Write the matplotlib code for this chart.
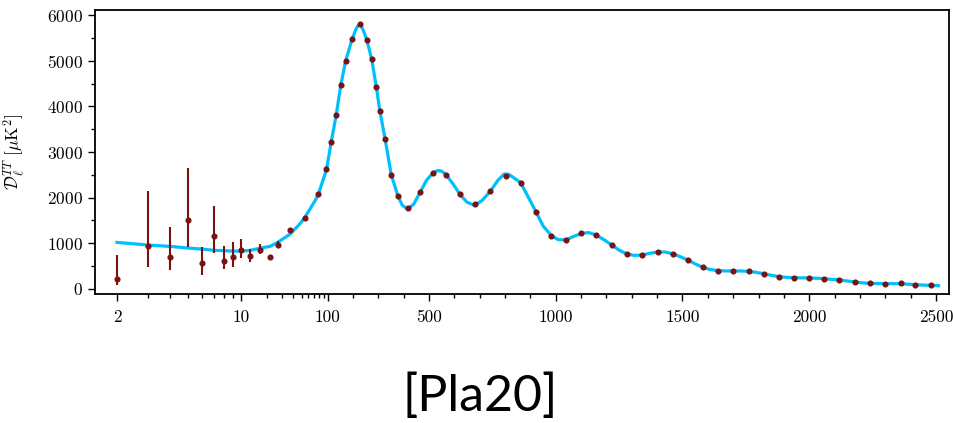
import numpy as np
import matplotlib
matplotlib.use('Agg')
import matplotlib.pyplot as plt
from matplotlib.ticker import FixedLocator, FixedFormatter

plt.rcParams['font.family'] = 'serif'
plt.rcParams['font.serif'] = ['cmr10']
plt.rcParams['mathtext.fontset'] = 'cm'
plt.rcParams['axes.unicode_minus'] = False
plt.rcParams['axes.formatter.use_mathtext'] = True

# binned data points (multipole, D_ell, lower, upper)
ell_pts = [2, 3, 4, 5, 6, 7, 8, 9, 10, 12.7, 16.7, 21.6, 26.5, 37, 55, 77, 97,
           114.6, 134, 152, 171, 197, 226, 255, 274, 292, 306, 327, 351, 377,
           416, 466, 517, 567, 622, 680, 742, 802, 861, 922, 983, 1041, 1101,
           1160, 1221, 1281, 1340, 1402, 1461, 1521, 1581, 1642, 1701, 1761,
           1820, 1881, 1941, 2000, 2060, 2119, 2180, 2239, 2300, 2360, 2419, 2479]
d_pts = [225, 945, 692, 1500, 568, 1166, 619, 693, 845, 728, 860, 704, 969,
         1284, 1544, 2077, 2625, 3228, 3812, 4462, 4993, 5475, 5803, 5453,
         5031, 4431, 3906, 3281, 2507, 2041, 1763, 2128, 2551, 2507, 2070,
         1851, 2143, 2478, 2332, 1691, 1166, 1078, 1216, 1181, 962, 765, 744,
         809, 772, 634, 472, 400, 394, 385, 335, 269, 247, 241, 225, 197, 153,
         122, 116, 122, 94, 79]
err_lo = [131, 457, 285, 575, 255, 372, 182, 212, 167, 131, 88, 30, 69,
          40, 40, 40, 45, 45, 45, 45, 45, 45, 45, 40, 40, 40, 35, 35, 30, 30,
          25, 25, 25, 25, 25, 20, 20, 20, 20, 20, 20, 18, 18, 18, 18, 15, 15,
          15, 15, 15, 15, 12, 12, 12, 12, 12, 10, 10, 10, 10, 10, 10, 10, 10,
          10, 10]
err_hi = [519, 1198, 671, 1150, 357, 656, 313, 342, 249, 153, 117, 30, 71,
          40, 40, 40, 45, 45, 45, 45, 45, 45, 45, 40, 40, 40, 35, 35, 30, 30,
          25, 25, 25, 25, 25, 20, 20, 20, 20, 20, 20, 18, 18, 18, 18, 15, 15,
          15, 15, 15, 15, 12, 12, 12, 12, 12, 10, 10, 10, 10, 10, 10, 10, 10,
          10, 10]

# best-fit curve
ell_fit = [2, 3, 4, 5, 6, 7, 8, 9, 10, 12.7, 16.7, 21.6, 26.5, 37, 48, 55, 69,
           77, 97, 114.6, 134, 152, 171, 197, 211, 219, 226, 233, 241, 255,
           274, 292, 306, 327, 351, 377, 395, 416, 440, 466, 490, 517, 535,
           550, 567, 595, 622, 650, 680, 710, 742, 772, 797, 815, 861, 890,
           922, 950, 983, 1010, 1041, 1070, 1101, 1130, 1160, 1190, 1221, 1250,
           1281, 1310, 1340, 1370, 1402, 1430, 1461, 1490, 1521, 1550, 1581,
           1610, 1642, 1670, 1701, 1730, 1761, 1790, 1820, 1850, 1881, 1910,
           1941, 1970, 2000, 2030, 2060, 2090, 2119, 2150, 2180, 2210, 2239,
           2270, 2300, 2330, 2360, 2390, 2419, 2450, 2479, 2510]
d_fit = [1020, 962, 932, 897, 875, 848, 838, 831, 831, 845, 897, 932, 1020,
         1203, 1428, 1575, 1881, 2040, 2610, 3228, 3812, 4462, 4993, 5475,
         5680, 5760, 5785, 5755, 5660, 5453, 5031, 4431, 3906, 3281, 2507,
         2041, 1830, 1750, 1860, 2128, 2380, 2551, 2595, 2580, 2507, 2300,
         2070, 1900, 1830, 1940, 2143, 2380, 2520, 2510, 2332, 2030, 1691,
         1380, 1166, 1080, 1078, 1150, 1216, 1235, 1181, 1080, 962, 850, 765,
         735, 744, 780, 809, 810, 772, 710, 634, 550, 472, 425, 400, 395, 394,
         395, 385, 365, 335, 300, 269, 255, 247, 243, 241, 235, 225, 210, 197,
         175, 153, 135, 122, 118, 116, 116, 115, 105, 94, 85, 79, 72]

x_major = [2, 10, 100, 500, 1000, 1500, 2000, 2500]
x_major_labels = ['2', '10', '100', '500', '1000', '1500', '2000', '2500']
x_minor = ([3, 4, 5, 6, 7, 8, 9] + list(range(20, 100, 10)) + [200, 300, 400]
           + [600, 700, 800, 900] + list(range(1100, 1500, 100))
           + list(range(1600, 2000, 100)) + list(range(2100, 2500, 100)))


# log below ell=100 (two different stretches), linear above
def fwd(l):
    l = np.asarray(l, dtype=float)
    lg = np.log10(np.clip(l, 1e-3, None))
    lo = np.where(lg < 1, 241 + (lg - 1) * 177.4, 241 + (lg - 1) * 86.6)
    hi = 327.6 + (l - 100) * 0.2535
    return np.where(l <= 100, lo, hi)


def inv(u):
    u = np.asarray(u, dtype=float)
    a = np.clip(1 + (u - 241) / 177.4, -5, 6)
    b = np.clip(1 + (u - 241) / 86.6, -5, 6)
    lo = np.where(u < 241, 10 ** a, 10 ** b)
    hi = 100 + (u - 327.6) / 0.2535
    return np.where(u <= 327.6, lo, hi)


fig = plt.figure(figsize=(9.54, 4.23), dpi=100)
ax = fig.add_axes([95 / 954, 1 - 294 / 423, 854 / 954, 284 / 423])
ax.set_xscale('function', functions=(fwd, inv))

ax.plot(ell_fit, d_fit, color='#00bfff', lw=2.3, zorder=2)
ax.errorbar(ell_pts, d_pts, yerr=[err_lo, err_hi], fmt='o', color='#7a1212',
            ms=3.4, elinewidth=1.5, capsize=0, zorder=3)

ax.set_xlim(float(inv(95)), float(inv(949)))
ax.set_ylim(-110, 6110)

ax.xaxis.set_major_locator(FixedLocator(x_major))
ax.xaxis.set_major_formatter(FixedFormatter(x_major_labels))
ax.xaxis.set_minor_locator(FixedLocator(x_minor))
ax.xaxis.set_minor_formatter(FixedFormatter([]))
ax.yaxis.set_major_locator(FixedLocator(range(0, 6001, 1000)))
ax.yaxis.set_minor_locator(FixedLocator(range(500, 6000, 1000)))

ax.tick_params(which='major', length=5, width=1.0, labelsize=12.5, pad=4)
ax.tick_params(which='minor', length=2.8, width=1.0)
ax.tick_params(axis='x', which='major', pad=6)
for s in ax.spines.values():
    s.set_linewidth(1.3)

ax.set_ylabel(r'$\mathcal{D}_\ell^{TT}\ [\mu\mathrm{K}^2]$', fontsize=12.5)
ax.yaxis.set_label_coords(-68 / 854, 0.5)

fig.text(480 / 954, 1 - 397 / 423, '[Pla20]', ha='center', va='center',
         fontsize=36, family='Lato')

fig.savefig('out.png', dpi=100)
